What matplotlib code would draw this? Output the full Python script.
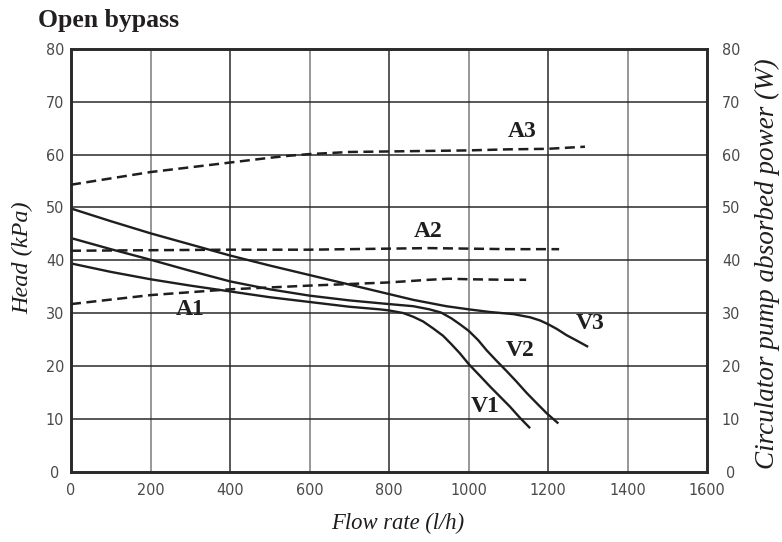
import matplotlib
matplotlib.use("Agg")
import matplotlib.pyplot as plt

# ---------------- data ----------------
# Head curves (kPa) vs flow rate (l/h)
v3_flow = [0, 100, 200, 300, 400, 500, 600, 700, 800, 861, 944, 1001, 1054, 1113,
           1155, 1180, 1200, 1222, 1247, 1272, 1301]
v3_head = [49.8, 47.4, 45.1, 43.0, 40.9, 39.0, 37.2, 35.4, 33.6, 32.5, 31.3, 30.7,
           30.2, 29.8, 29.2, 28.6, 27.9, 27.0, 25.8, 24.8, 23.6]

v2_flow = [0, 100, 200, 300, 400, 500, 600, 700, 800, 861, 902, 931, 957, 978,
           1001, 1024, 1045, 1070, 1096, 1121, 1146, 1172, 1197, 1226]
v2_head = [44.2, 42.1, 40.1, 38.0, 36.0, 34.5, 33.3, 32.4, 31.7, 31.3, 30.7, 30.1,
           29.0, 27.9, 26.6, 24.9, 23.0, 21.0, 19.0, 17.0, 14.9, 12.9, 11.0, 9.1]

v1_flow = [0, 100, 200, 300, 400, 500, 600, 700, 777, 800, 836, 861, 886, 911, 936,
           957, 978, 1001, 1029, 1054, 1079, 1104, 1129, 1155]
v1_head = [39.4, 37.8, 36.4, 35.2, 34.1, 33.0, 32.1, 31.2, 30.7, 30.5, 30.0, 29.3,
           28.4, 27.1, 25.7, 24.1, 22.4, 20.3, 18.1, 16.1, 14.2, 12.3, 10.2, 8.2]

# Absorbed power curves (W) vs flow rate (l/h)
a3_flow = [0, 100, 200, 300, 400, 500, 550, 600, 650, 700, 800, 900, 1000, 1100, 1200, 1293]
a3_power = [54.3, 55.5, 56.7, 57.6, 58.5, 59.4, 59.8, 60.1, 60.3, 60.5, 60.6, 60.7,
            60.8, 61.0, 61.1, 61.5]

a2_flow = [0, 200, 400, 600, 800, 900, 1000, 1100, 1228]
a2_power = [41.8, 41.9, 42.0, 42.0, 42.2, 42.3, 42.2, 42.1, 42.1]

a1_flow = [0, 200, 400, 600, 800, 900, 950, 1000, 1100, 1145]
a1_power = [31.7, 33.4, 34.5, 35.2, 35.8, 36.3, 36.5, 36.4, 36.3, 36.3]

curve_names = ["V1", "V2", "V3", "A1", "A2", "A3"]
label_x = [1041, 1130, 1306, 299, 899, 1134]
label_y = [12.3, 23.0, 28.1, 30.6, 45.4, 64.4]

x_ticks = [0, 200, 400, 600, 800, 1000, 1200, 1400, 1600]
y_ticks = [0, 10, 20, 30, 40, 50, 60, 70, 80]

title_text = "Open bypass"
xlabel_text = "Flow rate (l/h)"
ylabel_text = "Head (kPa)"
y2label_text = "Circulator pump absorbed power (W)"

# ---------------- styling ----------------
W, H = 782, 542
fig = plt.figure(figsize=(W / 100, H / 100), dpi=100)
fig.patch.set_facecolor("white")

L, R, T, B = 71, 707, 49, 471.5
ax = fig.add_axes([L / W, 1 - B / H, (R - L) / W, (B - T) / H])
ax2 = ax.twinx()

ink = "#1e1e1e"
tick_font = ["DejaVu Sans"]
serif = ["Liberation Serif", "DejaVu Serif"]

for a in (ax, ax2):
    a.set_xlim(0, 1600)
    a.set_ylim(0, 80)
    for s in a.spines.values():
        s.set_linewidth(1.9)
        s.set_color("#2a2a2a")

ax.set_xticks(x_ticks)
ax.set_yticks(y_ticks)
ax2.set_yticks(y_ticks)

# grid
for xv in x_ticks[1:-1]:
    col = "#7a7a7a" if (xv // 200) % 2 == 1 else "#2a2a2a"
    ax.axvline(xv, color=col, lw=1.1, zorder=0.5)
for yv in y_ticks[1:-1]:
    ax.axhline(yv, color="#2a2a2a", lw=1.1, zorder=0.5)

ax.tick_params(axis="both", length=0, colors="#4a4a4a", labelsize=11.5)
ax.tick_params(axis="x", pad=8)
ax.tick_params(axis="y", pad=11.5)
ax2.tick_params(axis="y", length=0, colors="#4a4a4a", labelsize=11.5, pad=17.3)
for lab in ax.get_xticklabels() + ax.get_yticklabels() + ax2.get_yticklabels():
    lab.set_family(tick_font)
    lab.set_stretch("condensed")
for lab in ax.get_yticklabels() + ax2.get_yticklabels():
    lab.set_ha("center")

# curves
solid_kw = dict(color=ink, lw=1.7, solid_capstyle="butt", solid_joinstyle="round", zorder=3)
ax.plot(v3_flow, v3_head, **solid_kw)
ax.plot(v2_flow, v2_head, **solid_kw)
ax.plot(v1_flow, v1_head, **solid_kw)

dash_kw = dict(color=ink, lw=1.8, dashes=(4, 2.2), zorder=3)
ax2.plot(a3_flow, a3_power, **dash_kw)
ax2.plot(a2_flow, a2_power, **dash_kw)
ax2.plot(a1_flow, a1_power, **dash_kw)

for name, lx, ly in zip(curve_names, label_x, label_y):
    ax2.text(lx, ly, name, family=serif, weight="bold", fontsize=17,
             color=ink, ha="center", va="center", zorder=4)

# axis labels
ax.set_xlabel(xlabel_text, family=serif, style="italic", fontsize=16.3, color=ink)
ax.xaxis.set_label_coords((398 - L) / (R - L), (B - 523) / (B - T))
ax.xaxis.label.set_va("center")

ax.set_ylabel(ylabel_text, family=serif, style="italic", fontsize=17.5, color=ink)
ax.yaxis.set_label_coords((23 - L) / (R - L), (B - 257.5) / (B - T))
ax.yaxis.label.set_va("center")
ax.yaxis.label.set_ha("center")

ax2.set_ylabel(y2label_text, family=serif, style="italic", fontsize=19.5, color=ink,
               rotation=90)
ax2.yaxis.set_label_coords((767 - L) / (R - L), (B - 264) / (B - T))
ax2.yaxis.label.set_va("center")
ax2.yaxis.label.set_ha("center")

fig.text(38 / W, 1 - 26.7 / H, title_text, family=serif, weight="bold",
         fontsize=18.5, color="#231f20", ha="left", va="baseline")

fig.savefig("out.png", dpi=100, facecolor="white")
